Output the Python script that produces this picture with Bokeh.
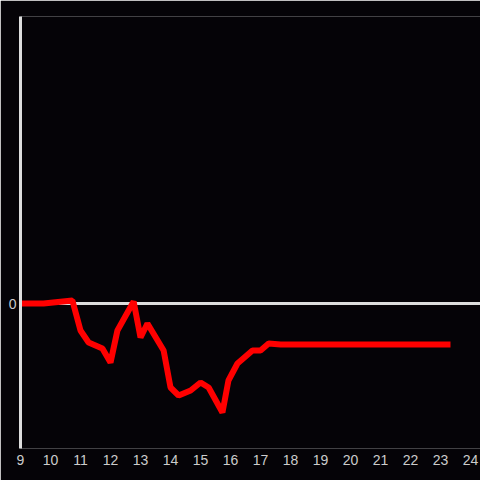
from bokeh.plotting import figure
from bokeh.models import Range1d, FixedTicker, Span
from bokeh.embed import file_html
from bokeh.resources import INLINE

# data (hours, value)
hours = [9.0, 9.77, 10.73, 11.0, 11.27, 11.73, 12.0, 12.23, 12.77, 13.0, 13.23,
         13.77, 14.0, 14.27, 14.67, 15.0, 15.27, 15.73, 15.93, 16.23, 16.73,
         17.0, 17.27, 17.67, 23.33]
values = [0.0, 0.0, 0.03, -0.27, -0.39, -0.45, -0.59, -0.27, 0.02, -0.34, -0.20,
          -0.47, -0.84, -0.92, -0.87, -0.79, -0.84, -1.09, -0.77, -0.60, -0.47,
          -0.47, -0.40, -0.41, -0.41]
x_ticks = list(range(9, 25))
y_ticks = [0]

BG = "#050307"
AXIS = "#dddddd"
LABEL = "#cccccc"
FONT = "Liberation Sans"

p = figure(width=480, height=480, output_backend="svg", toolbar_location=None,
           x_range=Range1d(9, 24.33), y_range=Range1d(-1.45, 2.87),
           min_border_left=20, min_border_right=0, min_border_top=16, min_border_bottom=32)
p.background_fill_color = BG
p.border_fill_color = BG
p.outline_line_color = None
p.xgrid.visible = False
p.ygrid.visible = False

zero = Span(location=0, dimension="width", line_color=AXIS, line_width=3, level="underlay")
p.add_layout(zero)

p.line(hours, values, line_color="#ff0000", line_width=6)

p.xaxis.ticker = FixedTicker(ticks=x_ticks)
p.xaxis.axis_line_color = None
p.xaxis.major_tick_line_color = None
p.xaxis.minor_tick_line_color = None
p.xaxis.major_tick_out = 0
p.xaxis.minor_tick_out = 0
p.xaxis.major_label_text_color = LABEL
p.xaxis.major_label_text_font = FONT
p.xaxis.major_label_text_font_size = "14px"
p.xaxis.major_label_standoff = 6

p.yaxis.ticker = FixedTicker(ticks=y_ticks)
p.yaxis.axis_line_color = AXIS
p.yaxis.axis_line_width = 3
p.yaxis.major_tick_line_color = None
p.yaxis.minor_tick_line_color = None
p.yaxis.major_tick_out = 0
p.yaxis.minor_tick_out = 0
p.yaxis.major_label_text_color = LABEL
p.yaxis.major_label_text_font = FONT
p.yaxis.major_label_text_font_size = "14px"
p.yaxis.major_label_standoff = 4

open("out.html", "w").write(file_html(p, INLINE))
